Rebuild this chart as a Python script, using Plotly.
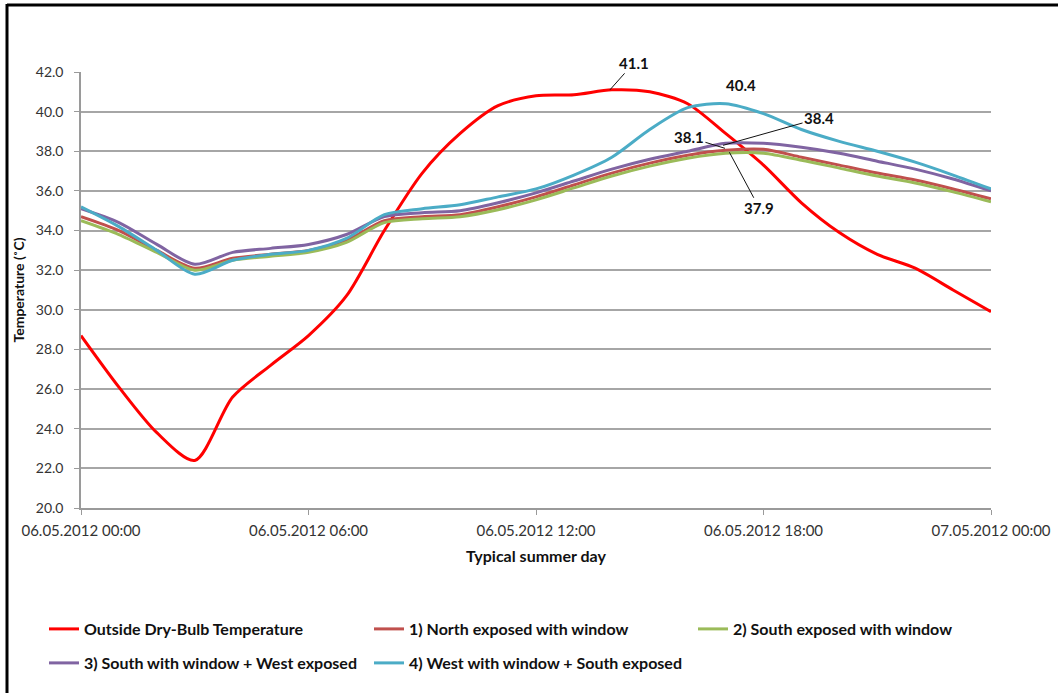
import plotly.graph_objects as go
import pandas as pd

# ---- data (hourly readings, 06.05.2012 00:00 .. 07.05.2012 00:00) ----
times = [t.strftime("%Y-%m-%d %H:%M") for t in pd.date_range("2012-05-06 00:00", "2012-05-07 00:00", freq="h")]

outside = [28.7, 26.1, 23.8, 22.4, 25.6, 27.2, 28.7, 30.7, 34.0, 36.9, 38.9, 40.3, 40.8,
           40.85, 41.1, 41.0, 40.4, 38.9, 37.3, 35.4, 33.9, 32.8, 32.1, 31.0, 29.9]
north = [34.7, 34.0, 33.0, 32.1, 32.6, 32.8, 33.0, 33.5, 34.5, 34.7, 34.8, 35.2, 35.7,
         36.3, 36.9, 37.4, 37.8, 38.05, 38.1, 37.7, 37.3, 36.9, 36.55, 36.1, 35.6]
south = [34.5, 33.8, 32.9, 32.0, 32.5, 32.7, 32.9, 33.4, 34.4, 34.6, 34.7, 35.05, 35.55,
         36.15, 36.75, 37.25, 37.65, 37.9, 37.9, 37.55, 37.15, 36.75, 36.4, 35.95, 35.45]
south_west = [35.1, 34.4, 33.3, 32.3, 32.9, 33.1, 33.3, 33.8, 34.7, 34.9, 35.0, 35.4, 35.9,
              36.5, 37.1, 37.6, 38.0, 38.4, 38.4, 38.2, 37.9, 37.5, 37.1, 36.6, 36.0]
west_south = [35.2, 34.2, 33.0, 31.8, 32.5, 32.8, 33.0, 33.6, 34.8, 35.1, 35.3, 35.7, 36.1,
              36.8, 37.7, 39.1, 40.2, 40.4, 39.9, 39.1, 38.5, 38.0, 37.45, 36.8, 36.1]

names = ["Outside Dry-Bulb Temperature", "1) North exposed with window",
         "2) South exposed with window", "3) South with window + West exposed",
         "4) West with window + South exposed"]
series = [outside, north, south, south_west, west_south]
colors = ["#FF0000", "#C0504D", "#9BBB59", "#8064A2", "#4BACC6"]

FONT = "Lato"

W, H = 1058, 693
L, R, T, B = 81, 67, 72, 185
pw, ph = W - L - R, H - T - B

def px(xp):
    return (xp - L) / pw

def py(yp):
    return (H - B - yp) / ph

# legend slot for each series: (left px, row centre px)
leg_pos = [(44, 629), (369, 629), (693, 629), (44, 663), (369, 663)]
leg_font = dict(family=FONT, size=16, color="#111", weight="bold")

fig = go.Figure()
legend_layout = {}
for i, (name, vals, col) in enumerate(zip(names, series, colors)):
    key = "legend" if i == 0 else f"legend{i + 1}"
    fig.add_trace(go.Scatter(x=times, y=vals, name=name, mode="lines",
                             line=dict(color=col, width=3, shape="spline", smoothing=0.8),
                             legend=key))
    lx, ly = leg_pos[i]
    legend_layout[key] = dict(orientation="h", xref="container", yref="container",
                              x=lx / W, y=1 - ly / H, xanchor="left", yanchor="middle",
                              font=leg_font, bgcolor="rgba(0,0,0,0)")

fig.update_layout(
    width=W, height=H,
    margin=dict(l=L, r=R, t=T, b=B, autoexpand=False),
    paper_bgcolor="white", plot_bgcolor="white",
    font=dict(family=FONT, size=13, color="#222"),
    showlegend=True,
    **legend_layout,
)

fig.update_xaxes(
    type="date", range=[times[0], times[-1]], automargin=False,
    tick0=times[0], dtick=6 * 3600 * 1000, tickformat="%d.%m.%Y %H:%M",
    showgrid=False, showline=True, linecolor="#9a9a9a", linewidth=1.5,
    ticks="outside", ticklen=5, tickcolor="#9a9a9a", ticklabelstandoff=3,
    tickfont=dict(family=FONT, size=15, color="#333"),
    title=dict(text="Typical summer day", font=dict(family=FONT, size=16, color="#111", weight="bold"), standoff=13),
    zeroline=False,
)
fig.update_yaxes(
    range=[20, 42], dtick=2, tick0=20, tickformat=".1f", automargin=False,
    showgrid=True, gridcolor="#a6a6a6", gridwidth=1.5,
    showline=True, linecolor="#9a9a9a", linewidth=1.5,
    ticks="outside", ticklen=5, tickcolor="#9a9a9a", ticklabelstandoff=8,
    tickfont=dict(family=FONT, size=14, color="#333"),
    title=dict(text="Temperature (˚C)", font=dict(family=FONT, size=14, color="#111", weight="bold"), standoff=8),
    zeroline=False,
)

# frame lines (top and left)
fig.add_shape(type="line", xref="paper", yref="paper", x0=px(7), x1=px(W + 5), y0=py(5), y1=py(5),
              line=dict(color="black", width=3))
fig.add_shape(type="line", xref="paper", yref="paper", x0=px(7), x1=px(7), y0=py(4), y1=py(H + 5),
              line=dict(color="black", width=3))

ann_font = dict(family=FONT, size=15, color="#111", weight="bold")
labels = [
    # (time, value, text, ax, ay)
    ("2012-05-06 13:57", 41.1, "41.1", 24, -27),
    ("2012-05-06 16:56", 38.3, "38.4", 96, -27),
    ("2012-05-06 16:59", 38.15, "38.1", -36, -11),
    ("2012-05-06 17:06", 37.95, "37.9", 30, 56),
]
for t, v, txt, ax, ay in labels:
    fig.add_annotation(x=t, y=v, text=txt, showarrow=True, ax=ax, ay=ay,
                       arrowhead=0, arrowwidth=1, arrowcolor="#111", standoff=0,
                       font=ann_font)
fig.add_annotation(x="2012-05-06 17:25", y=41.35, text="40.4", showarrow=False, font=ann_font)

fig.write_html("out.html", config={"displayModeBar": False},
               post_script="document.body.style.margin='0px';")
